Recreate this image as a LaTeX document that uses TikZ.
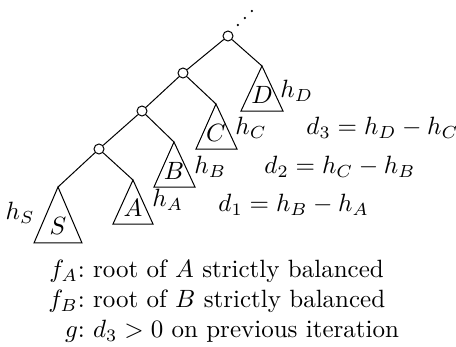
\documentclass[tikz,border=0pt]{standalone}
\usepackage{amsmath,amssymb}
\usetikzlibrary{positioning}

\begin{document}
\begin{tikzpicture}[
  x=0.4pt, y=-0.4pt,
  vtx/.style={draw, circle, minimum size=4pt, inner sep=0pt, fill=white},
  tri/.style={draw, line join=miter},
  lbl/.style={inner sep=0pt}
]
\useasboundingbox (0,0) rectangle (456,347);

\node[vtx] (r4) at (228,36) {};
\node[vtx] (r3) at (183,73) {};
\node[vtx] (r2) at (142,111) {};
\node[vtx] (r1) at (99,149) {};
\coordinate (tS) at (58,187);
\coordinate (tA) at (133,180);
\coordinate (tB) at (174,142);
\coordinate (tC) at (216,104);
\coordinate (tD) at (262,66);

\draw (r4) -- (r3);
\draw (r3) -- (r2);
\draw (r2) -- (r1);
\draw (r1) -- (tS);
\draw (r1) -- (tA);
\draw (r2) -- (tB);
\draw (r3) -- (tC);
\draw (r4) -- (tD);

\draw[tri] (tS) -- ++(-24,56) -- ++(48,0) -- cycle;
\draw[tri] (tA) -- ++(-20,44) -- ++(40,0) -- cycle;
\draw[tri] (tB) -- ++(-20,45) -- ++(41,0) -- cycle;
\draw[tri] (tC) -- ++(-20,45) -- ++(41,0) -- cycle;
\draw[tri] (tD) -- ++(-21,45) -- ++(42,0) -- cycle;

\node (S) at (58,226) {$S$};
\node (A) at (133,208) {$A$};
\node (B) at (174,171) {$B$};
\node (C) at (216,133) {$C$};
\node (D) at (262,95) {$D$};

\node[lbl, anchor=east] (hS) at (35,213) {$h_S$};
\node[lbl, anchor=west] (hA) at (152,200) {$h_A$};
\node[lbl, anchor=west] (hB) at (194,167) {$h_B$};
\node[lbl, anchor=west] (hC) at (235,128) {$h_C$};
\node[lbl, anchor=west] (hD) at (280,91) {$h_D$};

\fill (238,25) circle (0.5pt);
\fill (245,18) circle (0.5pt);
\fill (252,11) circle (0.5pt);

\node[lbl, anchor=west] (d1) at (218,205) {$d_1 = h_B - h_A$};
\node[lbl, anchor=west] (d2) at (264,167) {$d_2 = h_C - h_B$};
\node[lbl, anchor=west] (d3) at (306,128) {$d_3 = h_D - h_C$};

\node[lbl, anchor=north west] (legend) at (48,256) {%
  \begin{tabular}{@{}r@{\ }l@{}}
    $f_A$: & root of $A$ strictly balanced\\
    $f_B$: & root of $B$ strictly balanced\\
    $g$: & $d_3 > 0$ on previous iteration
  \end{tabular}};
\end{tikzpicture}
\end{document}
